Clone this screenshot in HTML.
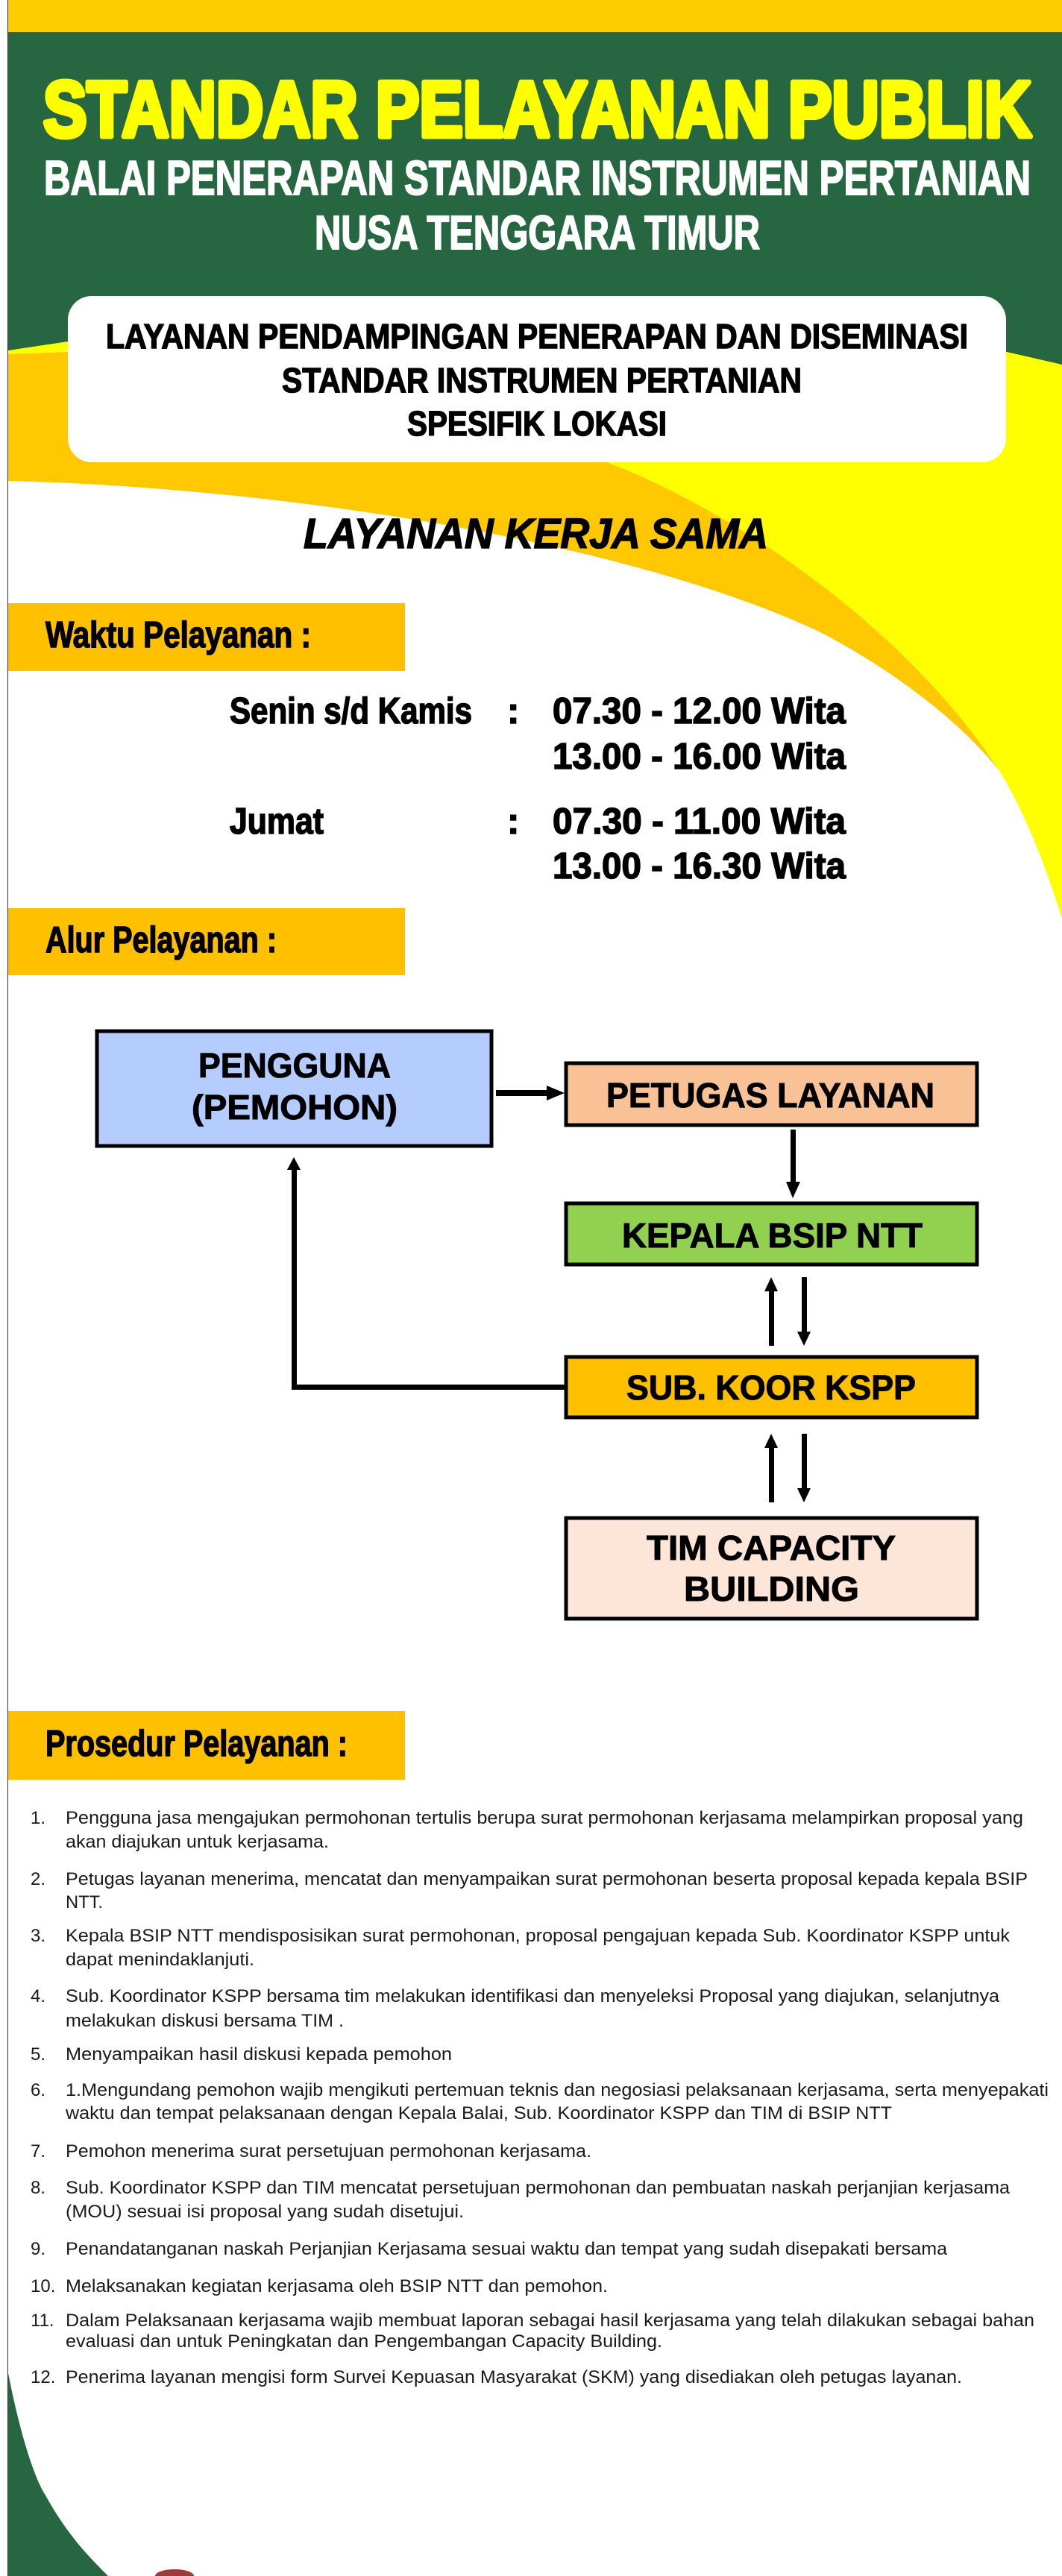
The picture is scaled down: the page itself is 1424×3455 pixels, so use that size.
<!DOCTYPE html>
<html><head><meta charset="utf-8"><style>
html,body{margin:0;padding:0;background:#fff}
svg{display:block}
.hv{font-family:"Liberation Sans",sans-serif;font-weight:bold}
.nr{font-family:"Liberation Sans",sans-serif}
</style></head><body>
<svg width="1424" height="3455" viewBox="0 0 1424 3455" xmlns="http://www.w3.org/2000/svg">
<rect width="1424" height="3455" fill="#fff"/>
<rect x="11" y="440" width="1413" height="860" fill="#FFFF00"/>
<path d="M11,475 L700,450 L813,620 C950,670 1200,820 1340,1034 C1100,900 700,660 11,645 Z" fill="#FFC800"/>
<path d="M11,645 C400,655 850,730 1100,848 C1200,900 1290,970 1340,1034 C1375,1090 1405,1170 1424,1232 L1424,1400 L11,1400 Z" fill="#fff"/>
<path d="M11,43 H1424 V489 L1350,472 L91,458 L11,470 Z" fill="#266641"/>
<rect x="11" y="0" width="1413" height="43" fill="#FFCC00"/>
<line x1="10.5" y1="0" x2="10.5" y2="3455" stroke="#333" stroke-width="1"/>
<path d="M11,3183 C30,3280 50,3330 60,3345 C90,3400 120,3430 145,3455 L11,3455 Z" fill="#266641"/>
<path d="M208,3455 A26,9 0 0 1 260,3455 Z" fill="#9B3B3B"/>

<text class="hv" x="58" y="183" font-size="106" fill="#FFFF00" stroke="#FFFF00" stroke-width="7" stroke-linejoin="round" textLength="1325" lengthAdjust="spacingAndGlyphs">STANDAR PELAYANAN PUBLIK</text>
<text class="hv" x="59" y="261" font-size="65" fill="#fff" stroke="#fff" stroke-width="2" textLength="1323" lengthAdjust="spacingAndGlyphs">BALAI PENERAPAN STANDAR INSTRUMEN PERTANIAN</text>
<text class="hv" x="422" y="334" font-size="64" fill="#fff" stroke="#fff" stroke-width="2" textLength="597" lengthAdjust="spacingAndGlyphs">NUSA TENGGARA TIMUR</text>

<rect x="91" y="397" width="1258" height="223" rx="32" fill="#fff"/>
<g class="hv" font-size="46" fill="#000" stroke="#000" stroke-width="1.5">
<text x="142" y="467" textLength="1156" lengthAdjust="spacingAndGlyphs">LAYANAN PENDAMPINGAN PENERAPAN DAN DISEMINASI</text>
<text x="378" y="526" textLength="697" lengthAdjust="spacingAndGlyphs">STANDAR INSTRUMEN PERTANIAN</text>
<text x="546" y="584" textLength="348" lengthAdjust="spacingAndGlyphs">SPESIFIK LOKASI</text>
<text x="407" y="735" font-size="57" font-style="italic" textLength="623" lengthAdjust="spacingAndGlyphs">LAYANAN KERJA SAMA</text>
</g>

<rect x="11" y="809" width="532" height="91" fill="#FFC000"/>
<g class="hv" font-size="49" fill="#000" stroke="#000" stroke-width="1.5">
<text x="61" y="868" textLength="356" lengthAdjust="spacingAndGlyphs">Waktu Pelayanan :</text>
<text x="308" y="970" textLength="325" lengthAdjust="spacingAndGlyphs">Senin s/d Kamis</text>
<text x="680" y="970">:</text>
<text x="741" y="970" textLength="393" lengthAdjust="spacingAndGlyphs">07.30 - 12.00 Wita</text>
<text x="741" y="1031" textLength="393" lengthAdjust="spacingAndGlyphs">13.00 - 16.00 Wita</text>
<text x="308" y="1118" textLength="126" lengthAdjust="spacingAndGlyphs">Jumat</text>
<text x="680" y="1118">:</text>
<text x="741" y="1118" textLength="393" lengthAdjust="spacingAndGlyphs">07.30 - 11.00 Wita</text>
<text x="741" y="1178" textLength="393" lengthAdjust="spacingAndGlyphs">13.00 - 16.30 Wita</text>
</g>

<rect x="11" y="1218" width="532" height="90" fill="#FFC000"/>
<text class="hv" x="61" y="1277" font-size="49" fill="#000" stroke="#000" stroke-width="1.5" textLength="310" lengthAdjust="spacingAndGlyphs">Alur Pelayanan :</text>

<g stroke="#000" stroke-width="5">
<rect x="130" y="1383" width="529" height="154" fill="#B4CCFF"/>
<rect x="759" y="1426" width="551" height="83" fill="#F8C296"/>
<rect x="759" y="1614" width="551" height="82" fill="#92D050"/>
<rect x="759" y="1820" width="551" height="81" fill="#FFC000"/>
<rect x="759" y="2036" width="551" height="135" fill="#FDE6D8"/>
</g>
<g class="hv" font-size="46" fill="#000" stroke="#000" stroke-width="1">
<text x="266" y="1445" textLength="258" lengthAdjust="spacingAndGlyphs">PENGGUNA</text>
<text x="257" y="1501" textLength="276" lengthAdjust="spacingAndGlyphs">(PEMOHON)</text>
<text x="813" y="1485" textLength="440" lengthAdjust="spacingAndGlyphs">PETUGAS LAYANAN</text>
<text x="834" y="1673" textLength="403" lengthAdjust="spacingAndGlyphs">KEPALA BSIP NTT</text>
<text x="840" y="1877" textLength="388" lengthAdjust="spacingAndGlyphs">SUB. KOOR KSPP</text>
<text x="867" y="2092" textLength="334" lengthAdjust="spacingAndGlyphs">TIM CAPACITY</text>
<text x="917" y="2147" textLength="235" lengthAdjust="spacingAndGlyphs">BUILDING</text>
</g>
<g fill="#000">
<rect x="665" y="1462" width="70" height="8"/><polygon points="733,1456 757,1466 733,1476"/>
<rect x="1060" y="1515" width="7" height="72"/><polygon points="1054,1585 1073,1585 1063,1607"/>
<rect x="1031" y="1730" width="7" height="75"/><polygon points="1025,1732 1043,1732 1034,1713"/>
<rect x="1075" y="1713" width="7" height="75"/><polygon points="1069,1786 1087,1786 1078,1805"/>
<rect x="1031" y="1940" width="7" height="75"/><polygon points="1025,1942 1043,1942 1034,1923"/>
<rect x="1075" y="1923" width="7" height="75"/><polygon points="1069,1996 1087,1996 1078,2015"/>
<rect x="391" y="1567" width="7" height="297"/><rect x="391" y="1857" width="368" height="7"/>
<polygon points="385,1569 403,1569 394,1552"/>
</g>

<rect x="11" y="2295" width="532" height="92" fill="#FFC000"/>
<text class="hv" x="61" y="2355" font-size="49" fill="#000" stroke="#000" stroke-width="1.5" textLength="405" lengthAdjust="spacingAndGlyphs">Prosedur Pelayanan :</text>

<g class="nr" font-size="24" fill="#1a1a1a">
<text x="41" y="2446">1.</text><text x="88" y="2446" textLength="1284" lengthAdjust="spacingAndGlyphs">Pengguna jasa mengajukan permohonan tertulis berupa surat permohonan kerjasama melampirkan proposal yang</text>
<text x="88" y="2478" textLength="353" lengthAdjust="spacingAndGlyphs">akan diajukan untuk kerjasama.</text>
<text x="41" y="2528">2.</text><text x="88" y="2528" textLength="1290" lengthAdjust="spacingAndGlyphs">Petugas layanan menerima, mencatat dan menyampaikan surat permohonan beserta proposal kepada kepala BSIP</text>
<text x="88" y="2559" textLength="50" lengthAdjust="spacingAndGlyphs">NTT.</text>
<text x="41" y="2604">3.</text><text x="88" y="2604" textLength="1266" lengthAdjust="spacingAndGlyphs">Kepala BSIP NTT mendisposisikan surat permohonan, proposal pengajuan kepada Sub. Koordinator KSPP untuk</text>
<text x="88" y="2636" textLength="253" lengthAdjust="spacingAndGlyphs">dapat menindaklanjuti.</text>
<text x="41" y="2685">4.</text><text x="88" y="2685" textLength="1252" lengthAdjust="spacingAndGlyphs">Sub. Koordinator KSPP bersama tim melakukan identifikasi dan menyeleksi Proposal yang diajukan, selanjutnya</text>
<text x="88" y="2718" textLength="373" lengthAdjust="spacingAndGlyphs">melakukan diskusi bersama TIM .</text>
<text x="41" y="2763">5.</text><text x="88" y="2763" textLength="518" lengthAdjust="spacingAndGlyphs">Menyampaikan hasil diskusi kepada pemohon</text>
<text x="41" y="2811">6.</text><text x="88" y="2811" textLength="1318" lengthAdjust="spacingAndGlyphs">1.Mengundang pemohon wajib mengikuti pertemuan teknis dan negosiasi pelaksanaan kerjasama, serta menyepakati</text>
<text x="88" y="2842" textLength="1108" lengthAdjust="spacingAndGlyphs">waktu dan tempat  pelaksanaan dengan Kepala Balai, Sub. Koordinator KSPP dan TIM di BSIP NTT</text>
<text x="41" y="2893">7.</text><text x="88" y="2893" textLength="705" lengthAdjust="spacingAndGlyphs">Pemohon menerima surat persetujuan permohonan kerjasama.</text>
<text x="41" y="2942">8.</text><text x="88" y="2942" textLength="1266" lengthAdjust="spacingAndGlyphs">Sub. Koordinator KSPP dan TIM mencatat persetujuan permohonan dan pembuatan naskah perjanjian kerjasama</text>
<text x="88" y="2974" textLength="534" lengthAdjust="spacingAndGlyphs">(MOU) sesuai isi proposal yang sudah disetujui.</text>
<text x="41" y="3024">9.</text><text x="88" y="3024" textLength="1182" lengthAdjust="spacingAndGlyphs">Penandatanganan naskah Perjanjian Kerjasama sesuai waktu dan tempat yang sudah disepakati bersama</text>
<text x="41" y="3074">10.</text><text x="88" y="3074" textLength="727" lengthAdjust="spacingAndGlyphs">Melaksanakan kegiatan kerjasama oleh BSIP NTT dan pemohon.</text>
<text x="41" y="3120">11.</text><text x="88" y="3120" textLength="1299" lengthAdjust="spacingAndGlyphs">Dalam Pelaksanaan kerjasama wajib membuat laporan sebagai hasil kerjasama yang telah dilakukan sebagai bahan</text>
<text x="88" y="3148" textLength="800" lengthAdjust="spacingAndGlyphs">evaluasi dan untuk Peningkatan dan Pengembangan Capacity Building.</text>
<text x="41" y="3196">12.</text><text x="88" y="3196" textLength="1202" lengthAdjust="spacingAndGlyphs">Penerima layanan mengisi form Survei Kepuasan Masyarakat (SKM) yang disediakan oleh petugas layanan.</text>
</g>
</svg>
</body></html>
